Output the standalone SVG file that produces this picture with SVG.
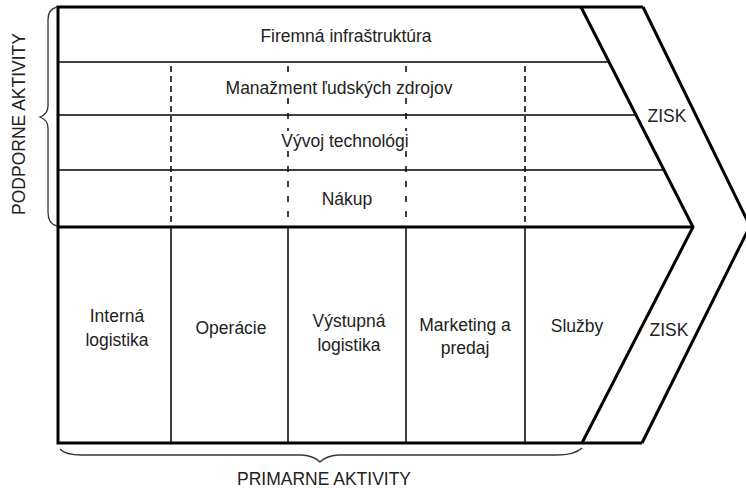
<svg xmlns="http://www.w3.org/2000/svg" width="746" height="488" viewBox="0 0 746 488">
<style>
.t{font-family:"Liberation Sans",Arial,sans-serif;font-size:17.5px;fill:#222;text-anchor:middle}
.thick{stroke:#000;stroke-width:3;fill:none;stroke-linejoin:miter}
.thin{stroke:#000;stroke-width:1.5;fill:none}
.dash{stroke:#000;stroke-width:1.5;fill:none;stroke-dasharray:6,4}
.sparse{stroke:#000;stroke-width:1.5;fill:none;stroke-dasharray:6,9}
.brace{stroke:#333;stroke-width:1.3;fill:none}
</style>
<rect width="746" height="488" fill="#fff"/>
<g id="frame">
<path class="thick" d="M643,7 L58,7 L58,443 L642,443"/>
<path class="thick" d="M581,7 L693,227 L582,443"/>
<path class="thick" d="M643,7 L750,226 L642,443"/>
<line class="thick" x1="58" y1="227" x2="693" y2="227"/>
</g>
<g id="connectors">
<line class="thin" x1="58" y1="62" x2="609" y2="62"/>
<line class="thin" x1="58" y1="115" x2="636" y2="115"/>
<line class="thin" x1="58" y1="170" x2="664" y2="170"/>
<line class="dash" x1="171" y1="66" x2="171" y2="227"/>
<line class="dash" x1="525" y1="66" x2="525" y2="227"/>
<path class="sparse" d="M288,66 V78 M288,98 V131 M288,151 V227 M406,66 V78 M406,98 V131 M406,151 V227"/>
<line class="thin" x1="171" y1="227" x2="171" y2="443"/>
<line class="thin" x1="288" y1="227" x2="288" y2="443"/>
<line class="thin" x1="406" y1="227" x2="406" y2="443"/>
<line class="thin" x1="525" y1="227" x2="525" y2="443"/>
</g>
<g id="support">
<text class="t" x="346" y="42">Firemná infraštruktúra</text>
<text class="t" x="339" y="94">Manažment ľudských zdrojov</text>
<text class="t" x="345" y="147">Vývoj technológi</text>
<text class="t" x="347" y="205">Nákup</text>
</g>
<g id="primary">
<text class="t" x="117" y="322">Interná</text>
<text class="t" x="117" y="346">logistika</text>
<text class="t" x="231" y="334">Operácie</text>
<text class="t" x="349" y="327">Výstupná</text>
<text class="t" x="349" y="351">logistika</text>
<text class="t" x="465" y="331">Marketing a</text>
<text class="t" x="465" y="354">predaj</text>
<text class="t" x="577" y="332">Služby</text>
</g>
<g id="zisk">
<text class="t" x="667" y="122">ZISK</text>
<text class="t" x="669" y="336">ZISK</text>
</g>
<g id="labels">
<path class="brace" d="M57,7 Q48,9 48,20 V106 Q48,114 40,117 Q48,120 48,128 V212 Q48,224 57,226"/>
<path class="brace" d="M60,449 Q65,455 82,455 H302 Q314,456 320,462 Q326,456 338,455 H556 Q575,455 582,448"/>
<text class="t" transform="translate(25,124) rotate(-90)">PODPORNE AKTIVITY</text>
<text class="t" x="324" y="485">PRIMARNE AKTIVITY</text>
</g>
</svg>
